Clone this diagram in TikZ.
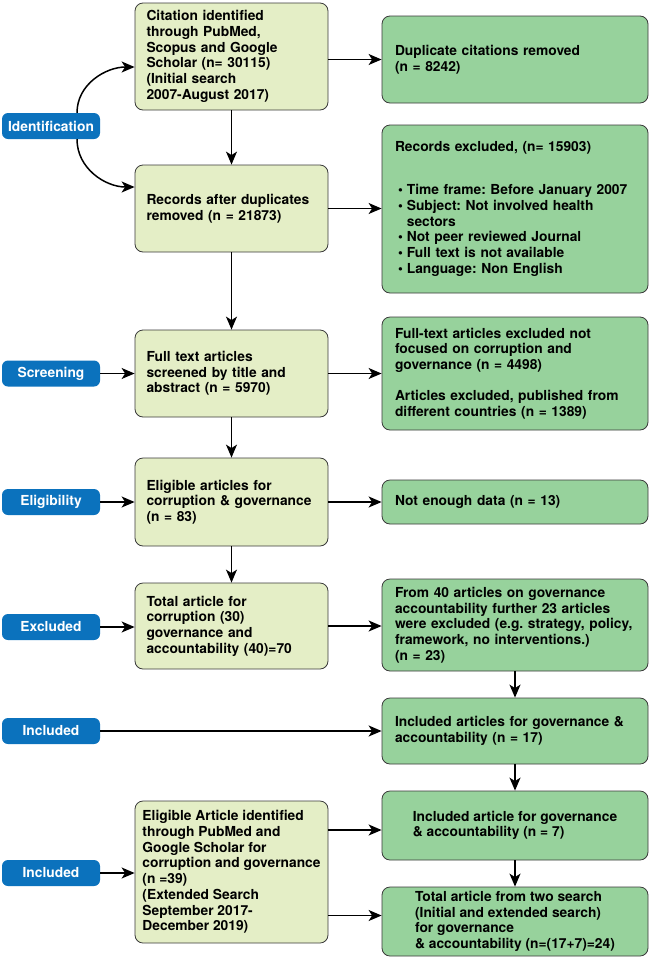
\documentclass[tikz,border=0pt]{standalone}
\usepackage{fontspec}
\setmainfont{TeX Gyre Heros}
\usetikzlibrary{arrows.meta}
\definecolor{stageblue}{HTML}{0B72BD}
\definecolor{paleGreen}{HTML}{E4EEC6}
\definecolor{midGreen}{HTML}{97D29C}
\definecolor{edgegray}{HTML}{3A3A3A}
\newcommand{\rbullet}{\hspace*{3pt}\textbullet\hspace{4pt}}
\tikzset{
  boxbase/.style={draw=edgegray, line width=0.8pt, rounded corners=8pt, align=left,
    font=\fontsize{13.8}{15.7}\selectfont\bfseries\frenchspacing, inner ysep=2pt},
  midbox/.style={boxbase, fill=paleGreen, text width=170pt, inner xsep=11.5pt},
  midblock/.style={boxbase, fill=paleGreen, minimum width=193pt, inner xsep=5pt},
  sidebox/.style={boxbase, fill=midGreen, text width=240pt, inner xsep=13pt},
  sideblock/.style={boxbase, fill=midGreen, minimum width=266pt},
  stage/.style={fill=stageblue, text=white, rounded corners=6pt, minimum width=98pt,
    minimum height=26pt, inner sep=0pt, font=\fontsize{13.8}{15.7}\selectfont\bfseries},
  arr/.style={-{Stealth[length=13pt,width=11pt,inset=3.5pt]}, line width=1.5pt}
}
\begin{document}
\begin{tikzpicture}[x=1pt, y=1pt]
        \useasboundingbox (0,0) rectangle (651,-959);
        % Stages
        \node[stage] (ident) at (51,-126) {Identification};
        \node[stage] (screen) at (51,-373.5) {Screening};
        \node[stage] (elig) at (51,-502) {Eligibility};
        \node[stage] (excl) at (51,-627) {Excluded};
        \node[stage] (inclA) at (51,-731) {Included};
        \node[stage] (inclB) at (51,-873) {Included};
        % Middle column
        \node[midbox, minimum height=107pt] (cite) at (231.5,-56.5) {Citation identified\\ through PubMed,\\ Scopus and Google\\ Scholar (n= 30115)\\ (Initial search\\ 2007-August 2017)};
        \node[midbox, minimum height=87pt] (dedup) at (231.5,-208.5) {Records after duplicates\\ removed (n = 21873)};
        \node[midbox, minimum height=87pt] (screened) at (231.5,-373.5) {Full text articles\\ screened by title and\\ abstract (n = 5970)};
        \node[midbox, minimum height=88pt] (eligible) at (231.5,-502) {Eligible articles for\\ corruption \& governance\\ (n = 83)};
        \node[midbox, minimum height=86pt] (total) at (231.5,-626) {Total article for\\ corruption (30)\\ governance and\\ accountability (40)=70};
        \node[midblock, minimum height=142pt] (extended) at (231.5,-872) {Eligible Article identified\\ through PubMed and\\ Google Scholar for\\ corruption and governance\\ (n =39)\\ (Extended Search\\ September 2017-\\ December 2019)};
        % Right column
        \node[sidebox, minimum height=87pt] (dup) at (515,-59.5) {Duplicate citations removed\\ (n = 8242)};
        \node[sidebox, minimum height=168pt] (recexcl) at (515,-209) {Records excluded, (n= 15903)\\[27pt]
          \rbullet Time frame: Before January 2007\\
          \rbullet Subject: Not involved health\\
          \hphantom{\rbullet}sectors\\
          \rbullet Not peer reviewed Journal\\
          \rbullet Full text is not available\\
          \rbullet Language: Non English};
        \node[sidebox, minimum height=113pt] (ftexcl) at (515,-373.5) {Full-text articles excluded not\\ focused on corruption and\\ governance (n = 4498)\\[15.7pt] Articles excluded, published from\\ different countries (n = 1389)};
        \node[sidebox, minimum height=44pt] (nodata) at (515,-502) {Not enough data (n = 13)};
        \node[sidebox, minimum height=92pt] (govexcl) at (515,-625) {From 40 articles on governance\\ accountability further 23 articles\\ \mbox{were excluded (e.g. strategy, policy,}\\ framework, no interventions.)\\ (n = 23)};
        \node[sidebox, minimum height=66pt] (incgov) at (515,-731) {Included articles for governance \&\\ accountability (n = 17)};
        \node[sideblock, minimum height=69pt] (incext) at (515,-825.5) {Included article for governance\\ \& accountability (n = 7)};
        \node[sideblock, minimum height=69pt] (twosearch) at (515,-921.5) {Total article from two search\\ (Initial and extended search)\\ for governance\\ \& accountability (n=(17+7)=24)};
        % Stage arrows
        \draw[arr] ([xshift=26pt]ident.north) to[out=90, in=180] ([yshift=-10.5pt]cite.west);
        \draw[arr] ([xshift=26pt]ident.south) to[out=-90, in=180] ([yshift=21.5pt]dedup.west);
        \draw[arr] (screen.east) -- (screened.west);
        \draw[arr] (elig.east) -- (eligible.west);
        \draw[arr] (excl.east) -- (excl.east -| total.west);
        \draw[arr] (inclA.east) -- (incgov.west);
        \draw[arr] (inclB.east) -- (inclB.east -| extended.west);
        % Down the columns
        \foreach \a/\b in {cite/dedup, dedup/screened, screened/eligible, eligible/total, govexcl/incgov, incgov/incext, incext/twosearch}
          \draw[arr] (\a.south) -- (\b.north);
        % Across
        \coordinate (toext) at ([yshift=-4.5pt]incext.west);
        \coordinate (totwo) at ([yshift=6pt]twosearch.west);
        \draw[arr] (dup.west -| cite.east) -- (dup.west);
        \draw[arr] (dedup.east) -- (dedup.east -| recexcl.west);
        \draw[arr] (screened.east) -- (ftexcl.west);
        \draw[arr] (eligible.east) -- (nodata.west);
        \draw[arr] (total.east) -- (total.east -| govexcl.west);
        \draw[arr] (toext -| extended.east) -- (toext);
        \draw[arr] (totwo -| extended.east) -- (totwo);
\end{tikzpicture}
\end{document}
